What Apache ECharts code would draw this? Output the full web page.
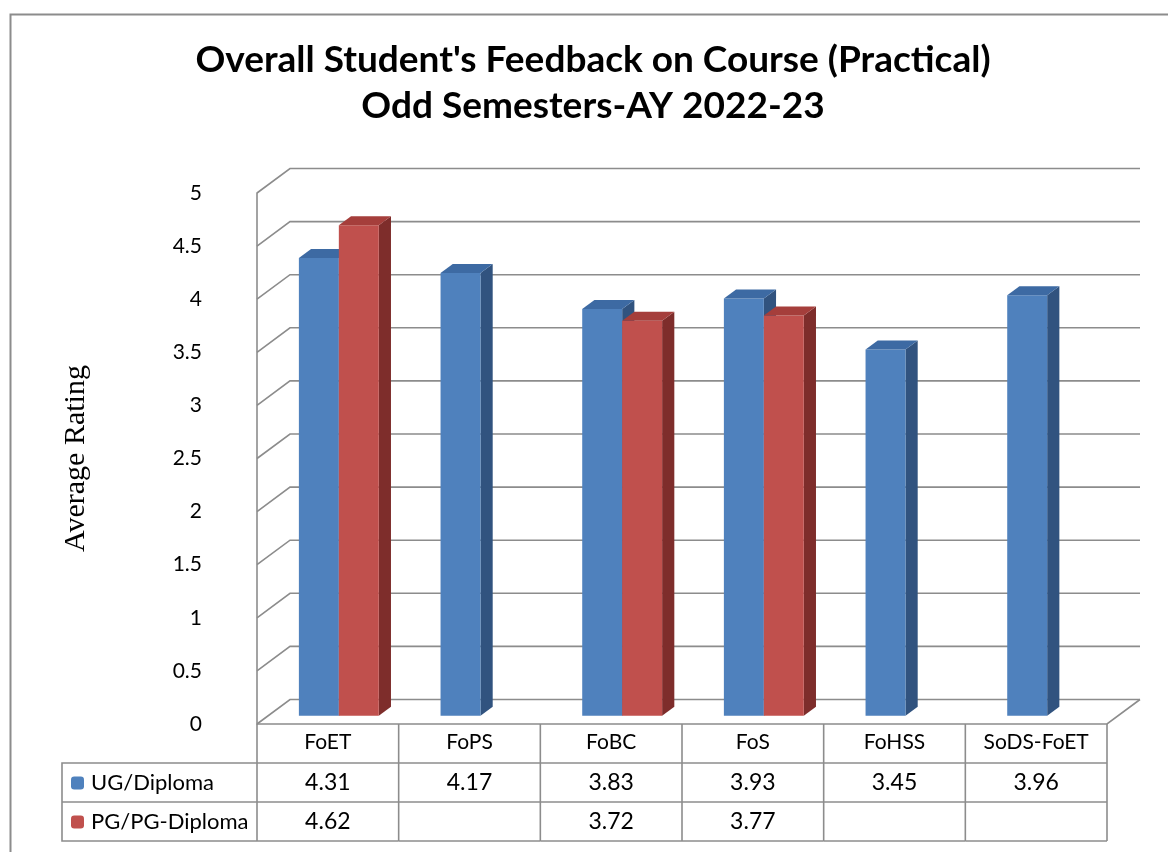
<!DOCTYPE html>
<html>
<head>
<meta charset="utf-8">
<title>Overall Student's Feedback on Course (Practical)</title>
<script src="https://cdn.jsdelivr.net/npm/echarts@6/dist/echarts.min.js"></script>
<style>
  html, body { margin: 0; padding: 0; background: #fff; }
  #chart { width: 1168px; height: 852px; }
</style>
</head>
<body>
<div id="chart"></div>
<script>
// data
const categories = ['FoET', 'FoPS', 'FoBC', 'FoS', 'FoHSS', 'SoDS-FoET'];
const ugValues = [4.31, 4.17, 3.83, 3.93, 3.45, 3.96];
const pgValues = [4.62, null, 3.72, 3.77, null, null];
const yTicks = [0, 0.5, 1, 1.5, 2, 2.5, 3, 3.5, 4, 4.5, 5];
const seriesNames = ['UG/Diploma', 'PG/PG-Diploma'];

// 3d look: depth of the back wall, and where the bars sit inside it
const DX = 33, DY = -24.5;
const FX = 11, FY = -8.2;    // front face of bars
const BX = 12.2, BY = -9;    // bar depth
const ROW = 39;
const FONT = 'Lato, "Noto Sans", sans-serif';
const LINE = '#8c8c8c';

const blue = {front: '#4f81bd', side: '#31537f', top: '#3d6aa3'};
const red = {front: '#c0504d', side: '#7e2d2b', top: '#a53e3b'};

function wallItem(params, api) {
  const cs = params.coordSys;
  const y = api.coord([0, api.value(1)])[1];
  const xl = cs.x, xr = cs.x + cs.width;
  const kids = [{
    type: 'polyline',
    shape: {points: [[xl, y], [xl + DX, y + DY], [xr + DX, y + DY]]},
    style: {stroke: LINE, lineWidth: 1.6, fill: null}
  }];
  if (api.value(1) === 0) {
    kids.push({
      type: 'polyline',
      shape: {points: [[xl, y], [xr, y], [xr + DX, y + DY]]},
      style: {stroke: LINE, lineWidth: 1.6, fill: null}
    });
  }
  return {type: 'group', children: kids};
}

function barItem(slot, c) {
  return function (params, api) {
    const idx = api.value(0);
    const base = api.coord([idx, 0]);
    const top = api.coord([idx, api.value(1)]);
    const band = api.size([1, 0])[0];
    const w = band * 0.282;
    const x = base[0] - w + slot * w + FX;
    const yb = base[1] + FY, yt = top[1] + FY;
    return {
      type: 'group',
      children: [
        {type: 'polygon', shape: {points: [[x + w, yt], [x + w + BX, yt + BY], [x + w + BX, yb + BY], [x + w, yb]]}, style: {fill: c.side}},
        {type: 'rect', shape: {x: x, y: yt, width: w, height: yb - yt}, style: {fill: c.front}},
        {type: 'polygon', shape: {points: [[x, yt], [x + w, yt], [x + w + BX, yt + BY], [x + BX, yt + BY]]}, style: {fill: c.top}}
      ]
    };
  };
}

function tableItem(params, api) {
  const idx = api.value(0);
  const p = api.coord([idx, 0]);
  const band = api.size([1, 0])[0];
  const x0 = p[0] - band / 2, x1 = p[0] + band / 2, y0 = p[1];
  const lineStyle = {stroke: LINE, lineWidth: 1.6, fill: null};
  const kids = [
    {type: 'line', shape: {x1: x1, y1: y0, x2: x1, y2: y0 + 3 * ROW}, style: lineStyle},
    {type: 'line', shape: {x1: x0, y1: y0 + ROW, x2: x1, y2: y0 + ROW}, style: lineStyle},
    {type: 'line', shape: {x1: x0, y1: y0 + 2 * ROW, x2: x1, y2: y0 + 2 * ROW}, style: lineStyle},
    {type: 'line', shape: {x1: x0, y1: y0 + 3 * ROW, x2: x1, y2: y0 + 3 * ROW}, style: lineStyle}
  ];
  const vals = [ugValues[idx], pgValues[idx]];
  vals.forEach(function (v, r) {
    if (v == null) return;
    kids.push({
      type: 'text',
      style: {
        text: v.toFixed(2), x: p[0], y: y0 + (r + 1.5) * ROW,
        align: 'center', verticalAlign: 'middle',
        fontSize: 23, fontFamily: FONT, fill: '#000'
      }
    });
  });
  return {type: 'group', children: kids};
}

const legendText = {fontSize: 22, fontFamily: FONT, color: '#000', lineHeight: 22, padding: [0, 0, 0, 2]};

const chart = echarts.init(document.getElementById('chart'));
chart.setOption({
  backgroundColor: '#fff',
  animation: false,
  title: {
    text: "Overall Student's Feedback on Course (Practical)\nOdd Semesters-AY 2022-23",
    left: 593,
    textAlign: 'center',
    top: 37,
    padding: 0,
    textStyle: {fontSize: 37, fontWeight: 'bold', fontFamily: FONT, color: '#000', lineHeight: 46}
  },
  legend: [
    {data: [seriesNames[0]], left: 71, top: 772, padding: 0, orient: 'vertical', itemWidth: 13, itemHeight: 13, itemGap: 0, textStyle: legendText},
    {data: [seriesNames[1]], left: 71, top: 811, padding: 0, orient: 'vertical', itemWidth: 13, itemHeight: 13, itemGap: 0, textStyle: legendText}
  ],
  grid: {left: 257, right: 61, top: 193, bottom: 128},
  xAxis: {
    type: 'category',
    data: categories,
    axisLine: {show: false},
    axisTick: {show: false},
    splitLine: {show: false},
    axisLabel: {fontSize: 21, fontFamily: FONT, color: '#000', margin: 8}
  },
  yAxis: {
    type: 'value',
    min: 0, max: 5, interval: 0.5,
    name: 'Average Rating',
    nameLocation: 'middle',
    nameGap: 166,
    nameTextStyle: {fontSize: 30, fontFamily: '"Liberation Serif", serif', color: '#000'},
    axisLine: {show: true, lineStyle: {color: LINE, width: 1.6}},
    axisTick: {show: false},
    splitLine: {show: false},
    axisLabel: {fontSize: 21, fontFamily: FONT, color: '#000', margin: 55}
  },
  graphic: [
    {type: 'rect', left: 8, top: 12, z: -1, shape: {width: 1200, height: 900}, style: {fill: null, stroke: LINE, lineWidth: 2}},
    {type: 'polyline', z: 5, shape: {points: [[257, 724 + ROW], [62, 724 + ROW], [62, 724 + 3 * ROW], [257, 724 + 3 * ROW]]}, style: {stroke: LINE, lineWidth: 1.6, fill: null}},
    {type: 'line', z: 5, shape: {x1: 62, y1: 724 + 2 * ROW, x2: 257, y2: 724 + 2 * ROW}, style: {stroke: LINE, lineWidth: 1.6}},
    {type: 'line', z: 5, shape: {x1: 257, y1: 724, x2: 257, y2: 724 + 3 * ROW}, style: {stroke: LINE, lineWidth: 1.6}}
  ],
  series: [
    {
      type: 'custom', name: 'wall', silent: true, z: 1,
      renderItem: wallItem,
      data: yTicks.map(function (v) { return [0, v]; })
    },
    {
      type: 'custom', name: seriesNames[0], z: 3,
      itemStyle: {color: blue.front},
      renderItem: barItem(0, blue),
      data: ugValues.map(function (v, i) { return [i, v]; })
    },
    {
      type: 'custom', name: seriesNames[1], z: 4,
      itemStyle: {color: red.front},
      renderItem: barItem(1, red),
      data: pgValues.map(function (v, i) { return [i, v]; }).filter(function (d) { return d[1] != null; })
    },
    {
      type: 'custom', name: 'table', silent: true, z: 5,
      renderItem: tableItem,
      data: categories.map(function (c, i) { return [i, 0]; })
    }
  ]
});
</script>
</body>
</html>
